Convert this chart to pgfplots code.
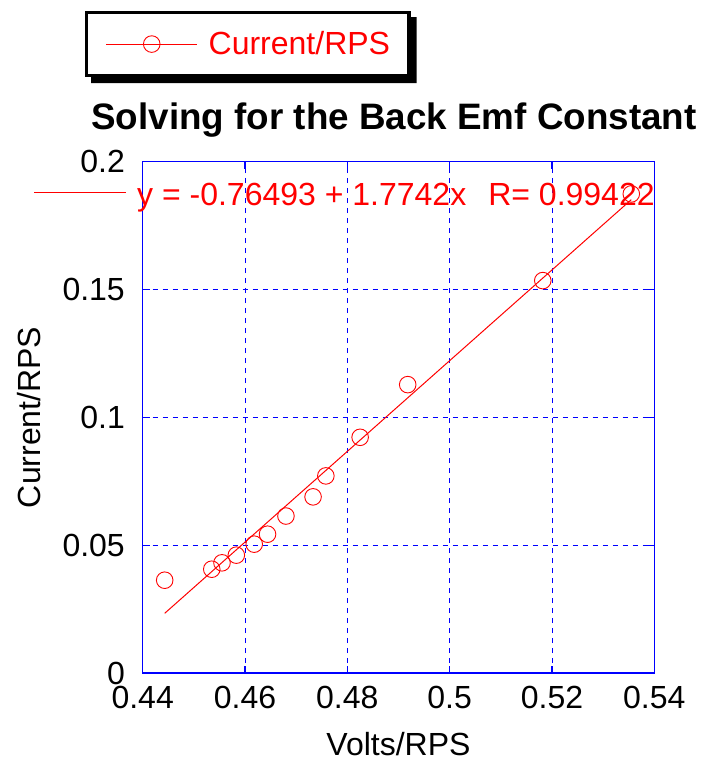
\documentclass[border=0pt]{standalone}
\usepackage{pgfplots}
\pgfplotsset{compat=1.18}
\usepackage{fontspec}
\setmainfont{Liberation Sans}
\begin{document}
\begin{tikzpicture}
\path[use as bounding box] (0pt,0pt) rectangle (706pt,-762pt);
\begin{axis}[
  at={(142.7pt,-673pt)}, anchor=south west,
  scale only axis, width=511.6pt, height=511.3pt,
  xmin=0.44, xmax=0.54, ymin=0, ymax=0.2,
  xtick={0.44,0.46,0.48,0.5,0.52,0.54},
  ytick={0,0.05,0.1,0.15,0.2},
  xticklabels={0.44,0.46,0.48,0.5,0.52,0.54},
  yticklabels={0,0.05,0.1,0.15,0.2},
  axis line style={blue, line width=1.4pt},
  tick style={blue, line width=1.2pt},
  major tick length=7pt,
  tick align=inside,
  grid=major,
  major grid style={blue, line width=0.8pt, dash pattern=on 5pt off 5pt},
  /pgf/number format/assume math mode=true,
  ticklabel style={font=\fontsize{32}{38}\selectfont, inner sep=0pt},
  xticklabel style={anchor=north, yshift=-12.5pt},
  yticklabel style={anchor=east, xshift=-17.7pt},
  xlabel={Volts/RPS},
  ylabel={Current/RPS},
  label style={font=\fontsize{32}{38}\selectfont},
  xlabel style={at={(axis description cs:0.5,-0.1604)}, anchor=base},
  ylabel style={at={(axis description cs:-0.1988,0.5)}, anchor=base},
  title={\bfseries Solving for the Back Emf Constant},
  title style={font=\fontsize{36.8}{44}\selectfont, at={(axis description cs:0.5,1)}, anchor=base, yshift=26.7pt, xshift=-4.5pt},
  legend style={name=lgd, at={(axis description cs:-0.1124,1.2945)}, anchor=north west,
    draw=black, line width=3.2pt, fill=white,
    inner xsep=19pt, inner ysep=19pt,
    nodes={inner sep=0pt, font=\fontsize{32}{38}\selectfont, text=red},
    column sep=11pt},
  legend image code/.code={\draw[line width=0.9pt, sharp plot, mark repeat=2, mark phase=2] plot coordinates {(0pt,0pt)(45.5pt,0pt)(91pt,0pt)};},
  clip=false,
]
\addplot[red, line width=1pt, forget plot] coordinates {(0.4443,0.02335) (0.5355,0.18516)};
\addplot[only marks, red, mark=o, mark size=8.3pt, mark options={line width=0.9pt}] coordinates {
(0.4443,0.0363)
(0.4535,0.0406)
(0.4555,0.0431)
(0.4583,0.0461)
(0.4618,0.0504)
(0.4644,0.0543)
(0.4680,0.0614)
(0.4733,0.0689)
(0.4758,0.0771)
(0.4825,0.0922)
(0.4918,0.1128)
(0.5182,0.1535)
(0.5355,0.1874)
};
\addlegendentry{Current/RPS}
\end{axis}
\fill[black] ([yshift=-6pt]lgd.north east) -- ([xshift=6pt,yshift=-6pt]lgd.north east)
  -- ([xshift=6pt,yshift=-6pt]lgd.south east) -- ([xshift=6pt,yshift=-6pt]lgd.south west)
  -- ([xshift=6pt]lgd.south west) -- (lgd.south east) -- cycle;
\draw[red, line width=1pt] (34pt,-192pt) -- (126pt,-192pt);
\node[anchor=base west, inner sep=0pt, text=red, font=\fontsize{32}{38}\selectfont] at (137pt,-205pt) {y = -0.76493 + 1.7742x\hspace{22pt}R= 0.99422};
\end{tikzpicture}
\end{document}
